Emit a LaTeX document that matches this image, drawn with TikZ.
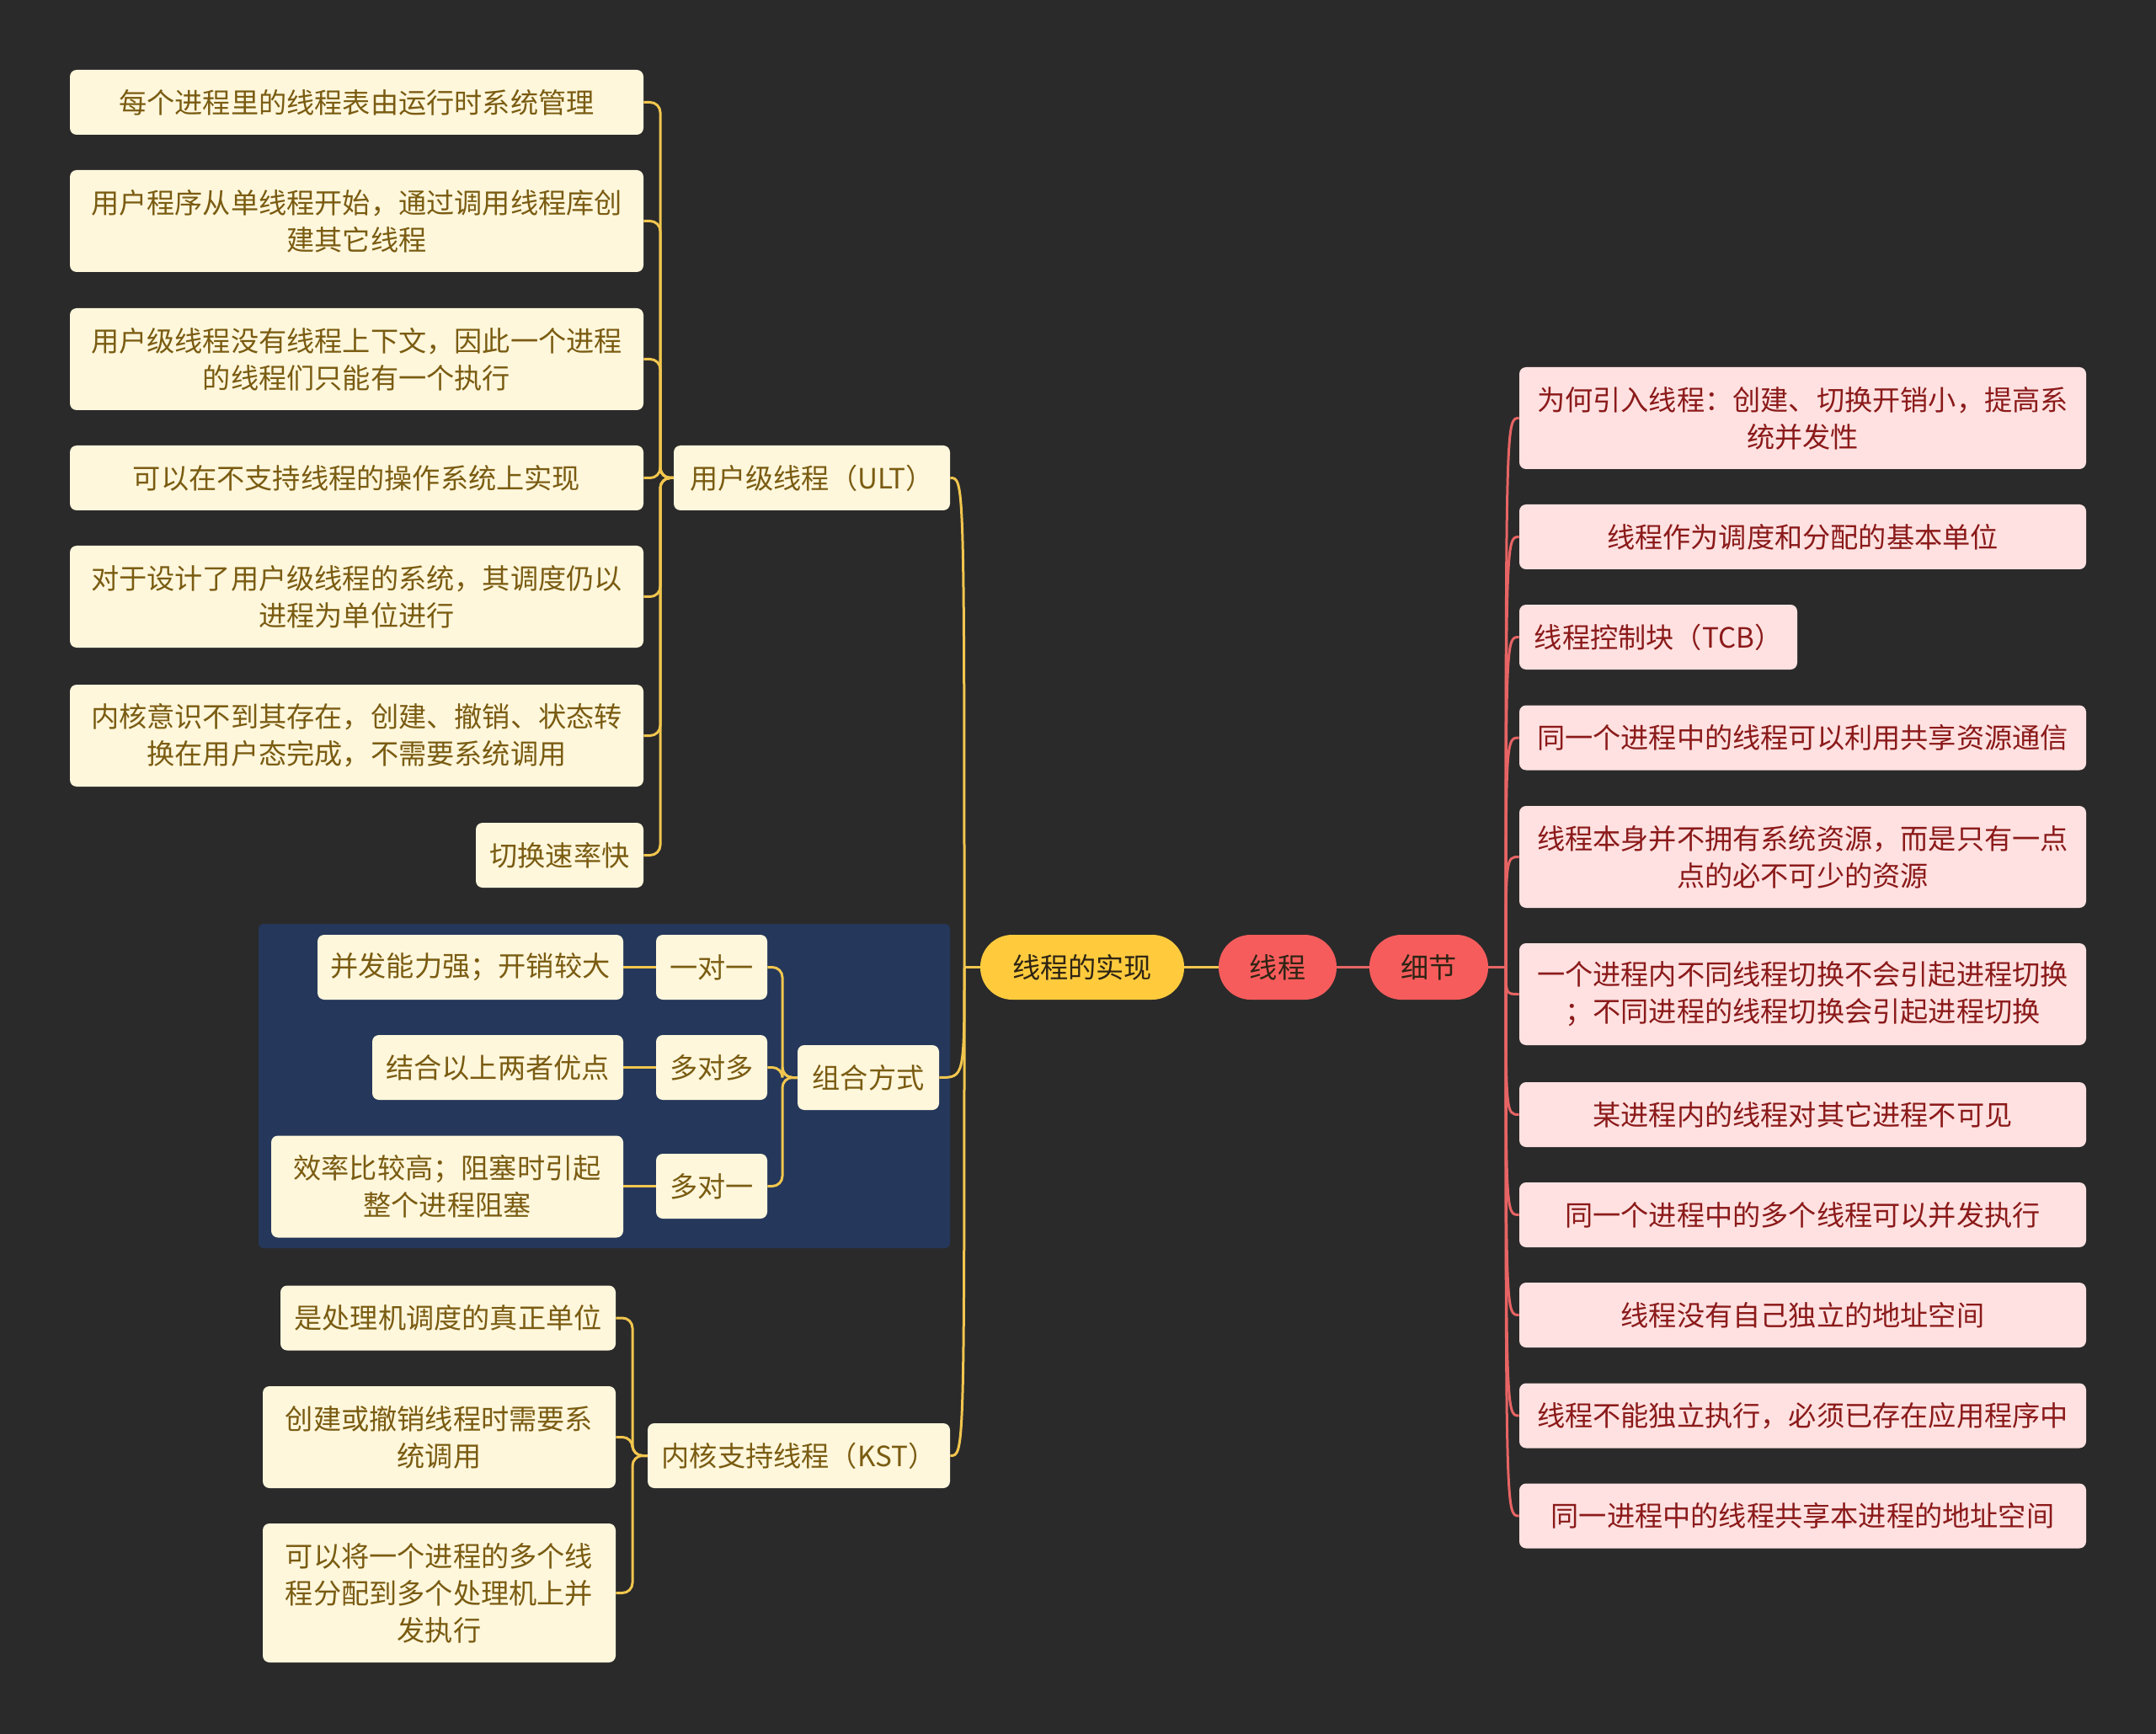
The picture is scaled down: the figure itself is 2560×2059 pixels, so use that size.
\documentclass[tikz,border=0pt]{standalone}
\usepackage{fontspec}
\newfontfamily\cjk{Noto Sans CJK SC}
\definecolor{bgc}{HTML}{2A2A2A}
\definecolor{panelc}{HTML}{25375A}
\definecolor{creamfill}{HTML}{FFF7DC}
\definecolor{creamtext}{HTML}{7A5C12}
\definecolor{pinkfill}{HTML}{FFE1E1}
\definecolor{pinktext}{HTML}{8B1A1A}
\definecolor{yelfill}{HTML}{FFCB3D}
\definecolor{yelline}{HTML}{F2C64E}
\definecolor{redfill}{HTML}{F75C5C}
\definecolor{redline}{HTML}{E86464}
\definecolor{darktext}{HTML}{2E2414}
\tikzset{
  box/.style={rounded corners=4pt, inner sep=0pt, align=center, font=\cjk\fontsize{16.6}{22}\selectfont},
  cream/.style={box, fill=creamfill, text=creamtext},
  pink/.style={box, fill=pinkfill, text=pinktext},
  pill/.style={box, rounded corners=19pt, minimum height=38.5pt, text=darktext},
  yline/.style={draw=yelline, line width=1.5pt},
  rline/.style={draw=redline, line width=1.5pt},
  h1/.style={minimum height=38.5pt},
  h2/.style={minimum height=60.5pt},
}
\begin{document}
\begin{tikzpicture}[x=0.5pt,y=-0.5pt]
\fill[bgc] (0,0) rectangle (2560,2059);
\useasboundingbox (0,0) rectangle (2560,2059);
% panel
\fill[panelc, rounded corners=3pt] (307,1097) rectangle (1128,1482);

% main nodes
\node[pill, fill=yelfill, minimum width=121pt] (main) at (1285,1148.5) {线程的实现};
\node[pill, fill=redfill, minimum width=70pt] (xc) at (1517,1148.5) {线程};
\node[pill, fill=redfill, minimum width=70.5pt] (xj) at (1696.5,1148.5) {细节};

% ULT branch
\node[cream, h1, minimum width=164pt] (ult) at (964,567.5) {用户级线程（ULT）};
\node[cream, h1, minimum width=340.5pt] (c1) at (423.5,121.5) {每个进程里的线程表由运行时系统管理};
\node[cream, h2, minimum width=340.5pt] (c2) at (423.5,262.5) {用户程序从单线程开始，通过调用线程库创\\建其它线程};
\node[cream, h2, minimum width=340.5pt] (c3) at (423.5,426.5) {用户级线程没有线程上下文，因此一个进程\\的线程们只能有一个执行};
\node[cream, h1, minimum width=340.5pt] (c4) at (423.5,567.5) {可以在不支持线程的操作系统上实现};
\node[cream, h2, minimum width=340.5pt] (c5) at (423.5,708.5) {对于设计了用户级线程的系统，其调度仍以\\进程为单位进行};
\node[cream, h2, minimum width=340.5pt] (c6) at (423.5,873.5) {内核意识不到其存在，创建、撤销、状态转\\换在用户态完成，不需要系统调用};
\node[cream, h1, minimum width=99.5pt] (c7) at (664.5,1015.5) {切换速率快};

% combination branch
\node[cream, h1, minimum width=84pt] (zh) at (1031,1279.5) {组合方式};
\node[cream, h1, minimum width=66pt] (o1) at (845,1148.5) {一对一};
\node[cream, h1, minimum width=66pt] (o2) at (845,1267.5) {多对多};
\node[cream, h1, minimum width=66pt] (o3) at (845,1408.5) {多对一};
\node[cream, h1, minimum width=181.5pt] (p1) at (558.5,1148.5) {并发能力强；开销较大};
\node[cream, h1, minimum width=149pt] (p2) at (591,1267.5) {结合以上两者优点};
\node[cream, h2, minimum width=209pt] (p3) at (531,1409) {效率比较高；阻塞时引起\\整个进程阻塞};

% KST branch
\node[cream, h1, minimum width=179.5pt] (kst) at (948.5,1728.5) {内核支持线程（KST）};
\node[cream, h1, minimum width=199pt] (k1) at (532,1565) {是处理机调度的真正单位};
\node[cream, h2, minimum width=209.5pt] (k2) at (521.5,1706.5) {创建或撤销线程时需要系\\统调用};
\node[cream, minimum height=82.5pt, minimum width=209.5pt] (k3) at (521.5,1891.5) {可以将一个进程的多个线\\程分配到多个处理机上并\\发执行};

% right branch
\node[pink, h2, minimum width=336.5pt] (r1) at (2140.5,496.5) {为何引入线程：创建、切换开销小，提高系\\统并发性};
\node[pink, h1, minimum width=336.5pt] (r2) at (2140.5,637.5) {线程作为调度和分配的基本单位};
\node[pink, h1, minimum width=165pt] (r3) at (1969,756.5) {线程控制块（TCB）};
\node[pink, h1, minimum width=336.5pt] (r4) at (2140.5,876) {同一个进程中的线程可以利用共享资源通信};
\node[pink, h2, minimum width=336.5pt] (r5) at (2140.5,1017.5) {线程本身并不拥有系统资源，而是只有一点\\点的必不可少的资源};
\node[pink, h2, minimum width=336.5pt] (r6) at (2140.5,1180.5) {一个进程内不同线程切换不会引起进程切换\\；不同进程的线程切换会引起进程切换};
\node[pink, h1, minimum width=336.5pt] (r7) at (2140.5,1323.5) {某进程内的线程对其它进程不可见};
\node[pink, h1, minimum width=336.5pt] (r8) at (2140.5,1442.5) {同一个进程中的多个线程可以并发执行};
\node[pink, h1, minimum width=336.5pt] (r9) at (2140.5,1561.5) {线程没有自己独立的地址空间};
\node[pink, h1, minimum width=336.5pt] (r10) at (2140.5,1681) {线程不能独立执行，必须已存在应用程序中};
\node[pink, h1, minimum width=336.5pt] (r11) at (2140.5,1800) {同一进程中的线程共享本进程的地址空间};

% junctions
\coordinate (jm) at (1145,1148.5);
\coordinate (jr) at (1788,1148.5);
\coordinate (ju) at (784,567.5);
\coordinate (jz) at (929,1279.5);
\coordinate (jk) at (751,1728.5);

% main connectors
\draw[yline] (main.east) -- (xc.west);
\draw[rline] (xc.east) -- (xj.west);
\draw[yline] (main.west) -- (jm);
\foreach \t in {ult,zh,kst}{
  \draw[yline] (jm) .. controls (jm |- \t.east) .. (\t.east);
}
\draw[rline] (xj.east) -- (jr);
\foreach \t in {r1,r2,r3,r4,r5,r6,r7,r8,r9,r10,r11}{
  \draw[rline] (jr) .. controls (jr |- \t.west) .. (\t.west);
}
% ULT children
\foreach \t in {c1,c2,c3,c4,c5,c6,c7}{
  \draw[yline, rounded corners=6pt] (ult.west) -- (ju) |- (\t.east);
}
% combination children
\foreach \t in {o1,o2,o3}{
  \draw[yline, rounded corners=6pt] (zh.west) -- (jz) |- (\t.east);
}
\draw[yline] (p1.east) -- (o1.west);
\draw[yline] (p2.east) -- (o2.west);
\draw[yline] (p3.east |- o3.west) -- (o3.west);
% KST children
\foreach \t in {k1,k2,k3}{
  \draw[yline, rounded corners=6pt] (kst.west) -- (jk) |- (\t.east);
}
\end{tikzpicture}
\end{document}
